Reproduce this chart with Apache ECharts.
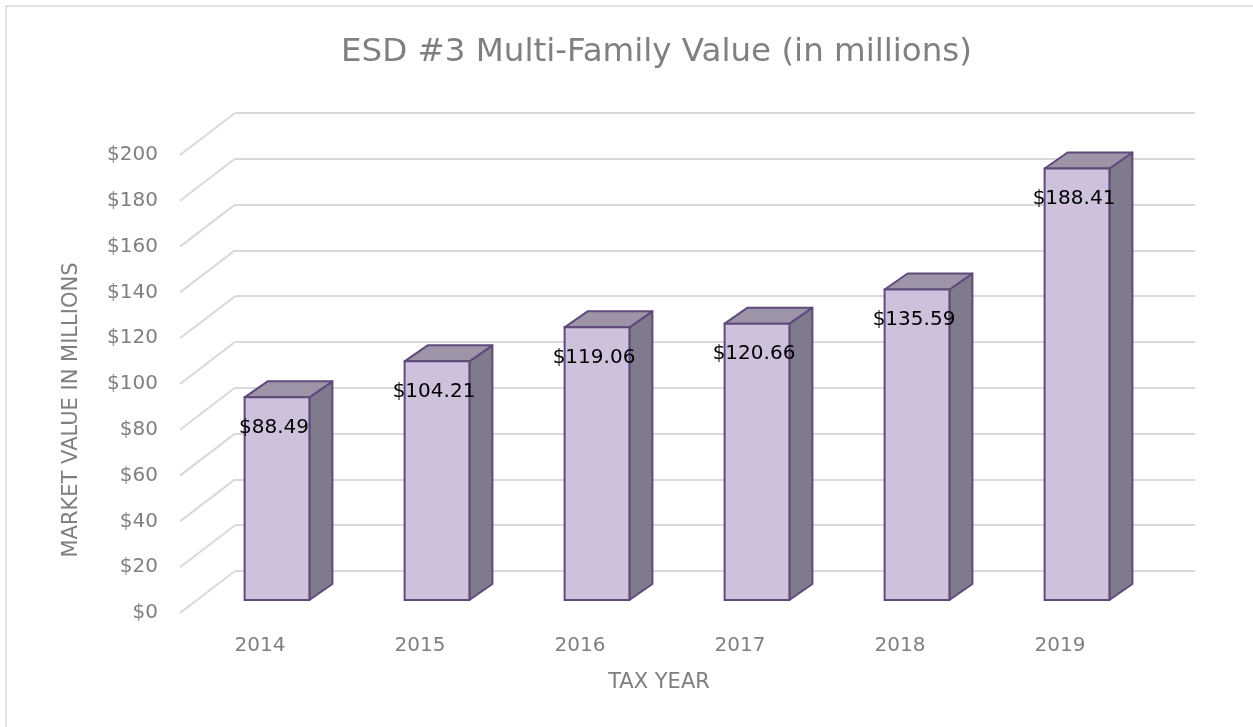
<!DOCTYPE html>
<html>
<head>
<meta charset="utf-8">
<script src="https://cdn.jsdelivr.net/npm/echarts@6/dist/echarts.min.js"></script>
<style>
  html, body { margin: 0; padding: 0; background: #fff; }
  #chart { width: 1253px; height: 727px; }
</style>
</head>
<body>
<div id="chart"></div>
<script>
var years = ['2014', '2015', '2016', '2017', '2018', '2019'];
var values = [88.49, 104.21, 119.06, 120.66, 135.59, 188.41];
var yTicks = [0, 20, 40, 60, 80, 100, 120, 140, 160, 180, 200];

var font = 'DejaVu Sans';
var grey = '#7f7f7f';
var gridGrey = '#d9d9d9';

var chart = echarts.init(document.getElementById('chart'));

// 3D-ish bar: side face, top face, front face, then label
function renderBar(params, api) {
    var i = api.value(0);
    var v = api.value(1);
    var top = api.coord([i, v]);
    var base = api.coord([i, 0]);
    var w = api.size([1, 0])[0] * 0.405;
    var x0 = top[0] - w / 2;
    var x1 = top[0] + w / 2;
    var dx = 23, dy = -16;
    var line = '#604a7b';
    return {
        type: 'group',
        children: [
            {
                type: 'polygon',
                shape: { points: [[x1, base[1]], [x1 + dx, base[1] + dy], [x1 + dx, top[1] + dy], [x1, top[1]]] },
                style: { fill: '#7f7a8c', stroke: line, lineWidth: 2, lineJoin: 'round' }
            },
            {
                type: 'polygon',
                shape: { points: [[x0, top[1]], [x0 + dx, top[1] + dy], [x1 + dx, top[1] + dy], [x1, top[1]]] },
                style: { fill: '#9e94a8', stroke: line, lineWidth: 2, lineJoin: 'round' }
            },
            {
                type: 'rect',
                shape: { x: x0, y: top[1], width: w, height: base[1] - top[1] },
                style: { fill: '#cdc1dc', stroke: line, lineWidth: 2 }
            },
            {
                type: 'text',
                style: {
                    text: '$' + v.toFixed(2),
                    x: top[0] - 3, y: top[1] + 30,
                    align: 'center', verticalAlign: 'middle',
                    fill: '#000', fontFamily: font, fontSize: 20
                }
            }
        ]
    };
}

// slanted part of each gridline, from the front plane to the back wall
function renderSlant(params, api) {
    var v = api.value(0);
    var y = api.coord([0, v])[1];
    var x = params.coordSys.x;
    return {
        type: 'line',
        shape: { x1: x, y1: y, x2: x + 55, y2: y - 42 },
        style: { stroke: gridGrey, lineWidth: 2 }
    };
}

var option = {
    backgroundColor: '#fff',
    title: {
        text: 'ESD #3 Multi-Family Value (in millions)',
        left: 336,
        top: 31,
        textStyle: { fontFamily: font, fontSize: 32.5, fontWeight: 'normal', color: '#808080' }
    },
    graphic: [
        {
            type: 'rect',
            shape: { x: 6, y: 6, width: 1260, height: 740 },
            style: { fill: 'none', stroke: '#d9d9d9', lineWidth: 1.5 },
            silent: true
        },
        {
            type: 'text',
            rotation: Math.PI / 2,
            x: 72, y: 410,
            style: {
                text: 'MARKET VALUE IN MILLIONS',
                fontFamily: font, fontSize: 21, fill: grey,
                align: 'center', verticalAlign: 'middle'
            }
        },
        {
            type: 'text',
            x: 659, y: 683,
            style: {
                text: 'TAX YEAR',
                fontFamily: font, fontSize: 21, fill: grey,
                align: 'center', verticalAlign: 'middle'
            }
        }
    ],
    grid: [
        // back wall
        { left: 235, right: 58, top: 113, bottom: 156 },
        // front plane
        { left: 180, right: 113, top: 155, bottom: 114 },
        // bar front faces
        { left: 197, right: 96, top: 142, bottom: 127 }
    ],
    xAxis: [
        { gridIndex: 0, type: 'category', data: years, show: false },
        {
            gridIndex: 1, type: 'category', data: years,
            axisLine: { show: false }, axisTick: { show: false },
            axisLabel: { color: grey, fontFamily: font, fontSize: 20, margin: 23 }
        },
        { gridIndex: 2, type: 'category', data: years, show: false }
    ],
    yAxis: [
        {
            gridIndex: 0, type: 'value', min: 0, max: 200, interval: 20,
            axisLine: { show: false }, axisTick: { show: false }, axisLabel: { show: false },
            splitLine: { lineStyle: { color: gridGrey, width: 2 } }
        },
        {
            gridIndex: 1, type: 'value', min: 0, max: 200, interval: 20,
            axisLine: { show: false }, axisTick: { show: false }, splitLine: { show: false },
            axisLabel: { color: grey, fontFamily: font, fontSize: 20, margin: 22, formatter: '${value}' }
        },
        {
            gridIndex: 2, type: 'value', min: 0, max: 200, interval: 20, show: false,
            splitLine: { show: false }
        }
    ],
    series: [
        {
            type: 'custom',
            xAxisIndex: 1, yAxisIndex: 1,
            data: yTicks.map(function (t) { return [t]; }),
            encode: { y: 0 },
            renderItem: renderSlant,
            silent: true
        },
        {
            type: 'custom',
            xAxisIndex: 2, yAxisIndex: 2,
            data: values.map(function (v, i) { return [i, v]; }),
            encode: { x: 0, y: 1 },
            renderItem: renderBar,
            silent: true
        }
    ]
};

chart.setOption(option);
</script>
</body>
</html>
